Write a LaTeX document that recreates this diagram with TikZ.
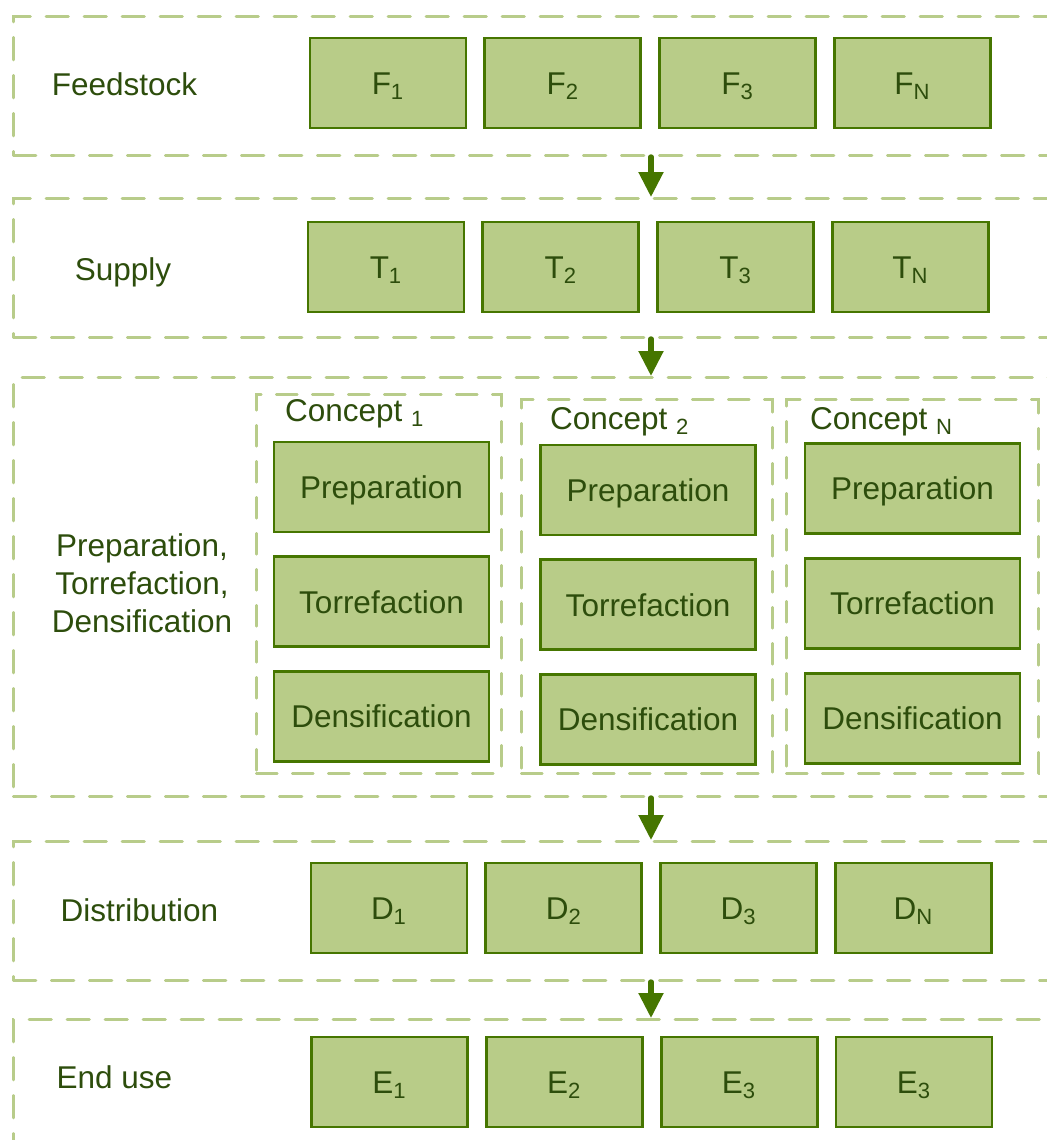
\documentclass[tikz,border=0pt]{standalone}
\usepackage{fontspec}
\setmainfont{Liberation Sans}
\usepackage{xcolor}
\usepackage{tikz}
\usetikzlibrary{positioning, arrows.meta}
\definecolor{boxfill}{HTML}{B8CC88}
\definecolor{boxline}{HTML}{467600}
\definecolor{textgreen}{HTML}{2D4D0C}
\definecolor{dashgreen}{HTML}{B8CC8A}
\tikzstyle{frame} = [rectangle, draw=dashgreen, line width=1.45pt, dash pattern=on 11.2pt off 7.8pt, line cap=round, anchor=north west, minimum width=530pt, inner sep=0pt]
\tikzstyle{concept} = [rectangle, draw=dashgreen, line width=1.3pt, dash pattern=on 10.5pt off 7.5pt, line cap=round, anchor=north west, inner sep=0pt]
\tikzstyle{stage} = [rectangle, minimum width=78pt, minimum height=45pt, text centered, text height=11.3pt, text depth=0pt, draw=boxline, line width=1.4pt, fill=boxfill, text=textgreen, font=\fontsize{15.75}{19}\selectfont]
\tikzstyle{task} = [stage, minimum width=107.5pt]
\tikzstyle{rowname} = [text=textgreen, font=\fontsize{15.75}{19}\selectfont, align=center, anchor=base]
\tikzstyle{arrow} = [draw=boxline, line width=2.6pt, line cap=round, -{Triangle[width=12pt, length=12.5pt]}]

\begin{document}
\begin{tikzpicture}[x=0.5pt, y=-0.5pt]
	
	\useasboundingbox (0,0) rectangle (1046,1140);
	
	\node (feed) [frame, minimum height=69.5pt] at (12,15) {};
	\node (supply) [frame, minimum height=69.5pt] at (12,197) {};
	\node (ptd) [frame, minimum height=209.5pt] at (12,376) {};
	\node (dist) [frame, minimum height=69.5pt] at (12,840) {};
	\node (enduse) [frame, minimum height=80pt] at (12,1018) {};
	
	\node (l1) [rowname] at (124.5,95) {Feedstock};
	\node (l2) [rowname] at (123,280) {Supply};
	\node (l3) [rowname, anchor=center] at (142,583.5) {Preparation,\\Torrefaction,\\Densification};
	\node (l4) [rowname] at (139.5,921) {Distribution};
	\node (l5) [rowname] at (114.5,1088) {End use};
	
	\node (f1) [stage] at (388,83) {F\textsubscript{1}};
	\node (f2) [stage, right=8pt of f1] {F\textsubscript{2}};
	\node (f3) [stage, right=8pt of f2] {F\textsubscript{3}};
	\node (fn) [stage, right=8pt of f3] {F\textsubscript{N}};
	
	\node (t1) [stage] at (386,267) {T\textsubscript{1}};
	\node (t2) [stage, right=8pt of t1] {T\textsubscript{2}};
	\node (t3) [stage, right=8pt of t2] {T\textsubscript{3}};
	\node (tn) [stage, right=8pt of t3] {T\textsubscript{N}};
	
	\node (c1) [concept, minimum width=122.5pt, minimum height=189.5pt] at (255,393) {};
	\node (c2) [concept, minimum width=125.5pt, minimum height=187pt] at (520,398) {};
	\node (cn) [concept, minimum width=126pt, minimum height=187pt] at (785,398) {};
	
	\node (cl1) [rowname, anchor=base west] at (278,421) {Concept \textsubscript{1}};
	\node (cl2) [rowname, anchor=base west] at (543,429) {Concept \textsubscript{2}};
	\node (cln) [rowname, anchor=base west] at (803,429) {Concept \textsubscript{N}};
	
	\node (p1) [task] at (381.5,487) {Preparation};
	\node (r1) [task, below=11pt of p1] {Torrefaction};
	\node (d1) [task, below=11pt of r1] {Densification};
	
	\node (p2) [task] at (648,490) {Preparation};
	\node (r2) [task, below=11pt of p2] {Torrefaction};
	\node (d2) [task, below=11pt of r2] {Densification};
	
	\node (pn) [task] at (912.5,488.5) {Preparation};
	\node (rn) [task, below=11pt of pn] {Torrefaction};
	\node (dn) [task, below=11pt of rn] {Densification};
	
	\node (e1) [stage] at (389,908) {D\textsubscript{1}};
	\node (e2) [stage, right=8pt of e1] {D\textsubscript{2}};
	\node (e3) [stage, right=8pt of e2] {D\textsubscript{3}};
	\node (en) [stage, right=8pt of e3] {D\textsubscript{N}};
	
	\node (u1) [stage] at (389.5,1082) {E\textsubscript{1}};
	\node (u2) [stage, right=8pt of u1] {E\textsubscript{2}};
	\node (u3) [stage, right=8pt of u2] {E\textsubscript{3}};
	\node (un) [stage, right=8pt of u3] {E\textsubscript{3}};
	
	\coordinate (flow) at (651,0);
	\draw [arrow] (feed.south -| flow) -- (supply.north -| flow);
	\draw [arrow] (supply.south -| flow) -- (ptd.north -| flow);
	\draw [arrow] (ptd.south -| flow) -- (dist.north -| flow);
	\draw [arrow] (dist.south -| flow) -- (enduse.north -| flow);
	
\end{tikzpicture}
\end{document}
